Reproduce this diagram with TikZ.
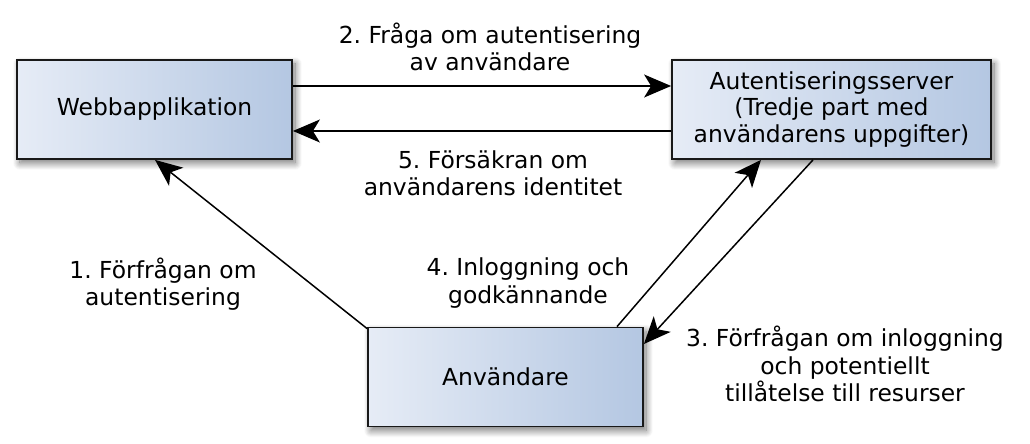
\documentclass[tikz,border=0pt]{standalone}
\usepackage{fontspec}
\setmainfont{DejaVu Sans}
\usetikzlibrary{arrows.meta,shadows.blur,calc}
\definecolor{boxL}{RGB}{230,236,246}
\definecolor{boxR}{RGB}{180,199,226}
\definecolor{boxD}{RGB}{25,25,25}
\frenchspacing
\begin{document}
\begin{tikzpicture}[x=1bp,y=-1bp,
  box/.style={draw=boxD,line width=1.8bp,left color=boxL,right color=boxR,
    minimum width=275bp,minimum height=99bp,inner sep=0pt,align=center,
    font=\fontsize{23.5}{27}\selectfont,
    blur shadow={shadow xshift=3bp,shadow yshift=-4bp,shadow blur radius=7bp,shadow blur steps=14,shadow opacity=55}},
  lbl/.style={align=center,inner sep=0pt,font=\fontsize{23.5}{27.5}\selectfont},
  arr/.style={line width=1.5bp,-{Stealth[length=27bp,width=23bp,inset=7bp]}}]
\useasboundingbox (0,0) rectangle (1030,444);
\node[box] (web) at (154.5,109.5) {Webbapplikation};
\node[box,minimum width=319bp] (srv) at (831.5,109.5) {Autentiseringsserver\\(Tredje part med\\användarens uppgifter)};
\node[box] (user) at (505.5,377) {Användare};
\draw[arr] ([yshift=23.5bp]web.east) -- ([yshift=23.5bp]srv.west);
\draw[arr] ([yshift=-21.5bp]srv.west) -- ([yshift=-21.5bp]web.east);
\draw[arr] ([yshift=-2bp]user.north west) -- (web.south -| 155,0);
\draw[arr] (user.north -| 617,0) -- (srv.south -| 761,0);
\draw[arr] (srv.south -| 813,0) -- (user.east |- 0,344);
\node[lbl] (l2) at (490,47) {2. Fråga om autentisering\\av användare};
\node[lbl] (l5) at (493,173) {5. Försäkran om\\användarens identitet};
\node[lbl] (l1) at (163,284) {1. Förfrågan om\\autentisering};
\node[lbl] (l4) at (528,283) {4. Inloggning och\\godkännande};
\node[lbl] (l3) at (845,364) {3. Förfrågan om inloggning\\och potentiellt\\tillåtelse till resurser};
\end{tikzpicture}
\end{document}
